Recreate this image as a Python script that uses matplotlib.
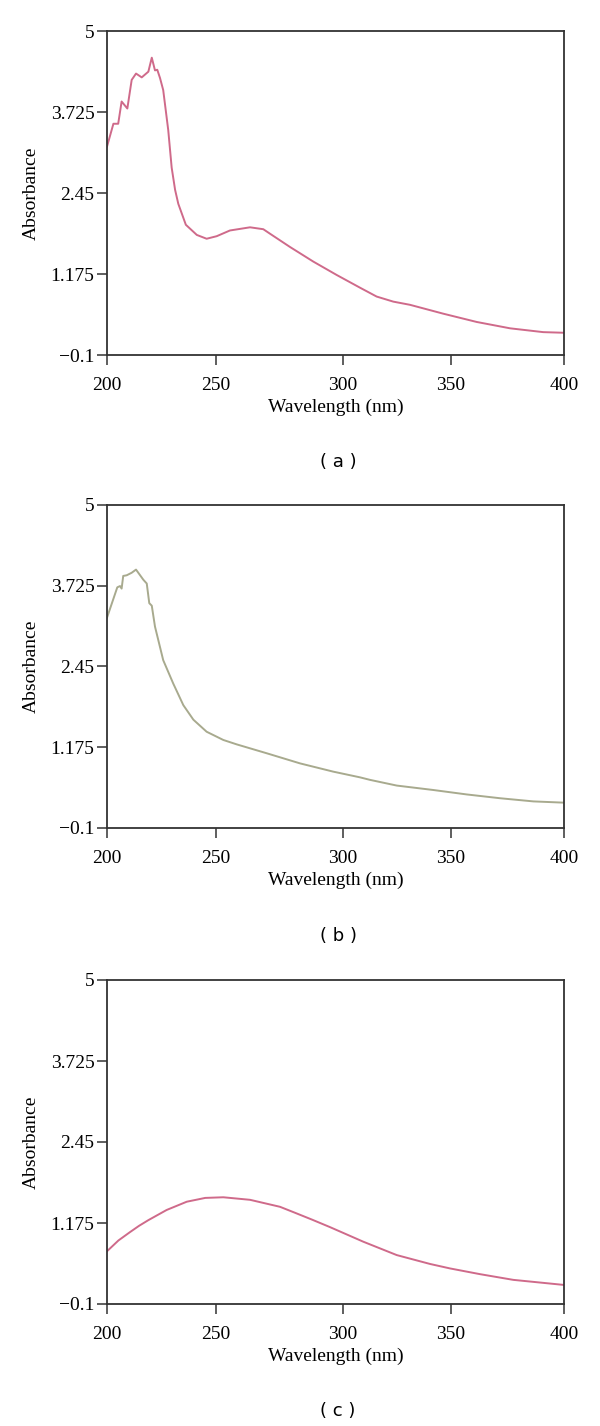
import matplotlib
matplotlib.use("Agg")
import matplotlib.pyplot as plt
import numpy as np

# panel (a)
wl_a = [200, 202.8, 204.9, 206.4, 208.9, 210.8, 212.7, 215.2, 218.1, 219.6, 221.0, 222.0,
        223.2, 224.6, 226.8, 228.3, 229.8, 231.2, 234.5, 239.3, 243.6, 248.0, 253.8,
        262.6, 268.4, 271.3, 280.1, 290.3, 300.5, 310.7, 318.0, 325.3, 332.6, 347.2,
        361.8, 376.4, 390.9, 400]
abs_a = [3.18, 3.54, 3.54, 3.89, 3.78, 4.23, 4.33, 4.27, 4.36, 4.58, 4.38, 4.39,
         4.26, 4.07, 3.44, 2.85, 2.50, 2.28, 1.95, 1.79, 1.73, 1.77, 1.86,
         1.91, 1.88, 1.81, 1.60, 1.37, 1.16, 0.96, 0.82, 0.74, 0.69, 0.55,
         0.42, 0.32, 0.26, 0.25]

# panel (b)
wl_b = [200, 204.5, 205.7, 206.4, 207.1, 208.6, 210.8, 212.7, 214.1, 215.9, 217.4, 218.5,
        219.6, 221.0, 224.6, 229.0, 233.4, 237.8, 243.6, 250.9, 256.8, 269.9, 284.5,
        299.0, 310.7, 315.1, 326.8, 342.8, 357.4, 372.0, 386.6, 400]
abs_b = [3.22, 3.70, 3.72, 3.68, 3.88, 3.89, 3.93, 3.98, 3.91, 3.82, 3.76, 3.45,
         3.41, 3.08, 2.55, 2.18, 1.84, 1.61, 1.42, 1.29, 1.22, 1.08, 0.92,
         0.79, 0.70, 0.66, 0.57, 0.50, 0.43, 0.37, 0.32, 0.30]

# panel (c)
wl_c = [200, 205, 210, 214, 218.1, 226.1, 234.9, 243, 250.9, 262.6, 275.7, 282,
        289.6, 297.6, 312.2, 326.8, 341.4, 350.1, 363.2, 377.8, 400]
abs_c = [0.73, 0.90, 1.03, 1.13, 1.22, 1.38, 1.51, 1.57, 1.58, 1.54, 1.43, 1.34,
         1.23, 1.11, 0.88, 0.67, 0.53, 0.46, 0.37, 0.28, 0.20]

y_ticks = [-0.1, 1.175, 2.45, 3.725, 5]
y_labels = ["\u22120.1", "1.175", "2.45", "3.725", "5"]
x_tick_pos = [200, 247.5, 303.3, 350.6, 400]
x_labels = ["200", "250", "300", "350", "400"]

panels = [
    (wl_a, abs_a, "#cf6a8a", "( a )", 31, 355, 462),
    (wl_b, abs_b, "#a8aa8e", "( b )", 505, 828, 936),
    (wl_c, abs_c, "#cf6a8a", "( c )", 980, 1304, 1411),
]

W, H = 600, 1426
fig = plt.figure(figsize=(W / 100, H / 100), dpi=100)
serif = ["Liberation Serif", "DejaVu Serif"]

for wl, ab, col, tag, top, bot, tag_y in panels:
    ax = fig.add_axes([107 / W, 1 - bot / H, (564 - 107) / W, (bot - top) / H])
    ax.plot(wl, ab, color=col, lw=1.4)
    ax.set_xlim(200, 400)
    ax.set_ylim(-0.1, 5)
    ax.set_yticks(y_ticks)
    ax.set_yticklabels(y_labels, family=serif, fontsize=14)
    ax.set_xticks(x_tick_pos)
    ax.set_xticklabels(x_labels, family=serif, fontsize=14)
    ax.tick_params(direction="out", length=7, width=1.1, color="#333333", pad=2)
    ax.tick_params(axis="x", pad=9)
    for sp in ax.spines.values():
        sp.set_color("#333333")
        sp.set_linewidth(1.3)
    ax.set_xlabel("Wavelength (nm)", family=serif, fontsize=14, labelpad=3)
    ax.set_ylabel("Absorbance", family=serif, fontsize=14, labelpad=8)
    fig.text(338 / W, 1 - tag_y / H, tag, ha="center", va="center",
             fontsize=13, family="DejaVu Sans")

fig.savefig("out.png", dpi=100)
